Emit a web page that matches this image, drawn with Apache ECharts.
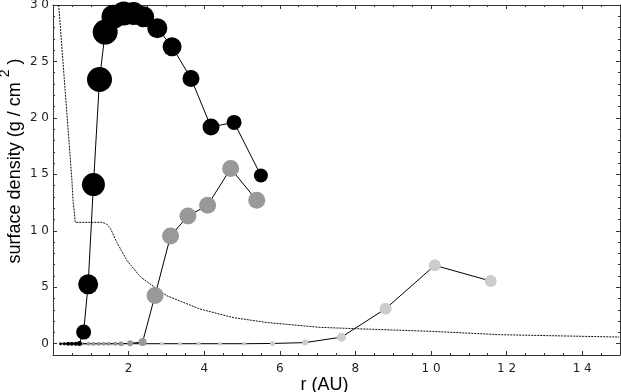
<!DOCTYPE html>
<html>
<head>
<meta charset="utf-8">
<script src="https://cdn.jsdelivr.net/npm/echarts@6/dist/echarts.min.js"></script>
<style>
html,body{margin:0;padding:0;background:#fff;}
#main{width:621px;height:392px;}
</style>
</head>
<body>
<div id="main"></div>
<script>
// black run (largest bodies)
var blackR = [0.2, 0.3, 0.4, 0.5, 0.6, 0.7, 0.81, 0.93, 1.07, 1.23, 1.38, 1.60, 1.87, 2.13, 2.40, 2.76, 3.15, 3.65, 4.18, 4.79, 5.50];
var blackSigma = [0, 0, 0, 0, 0, 0.02, 1.03, 5.26, 14.1, 23.4, 27.6, 28.95, 29.25, 29.25, 28.95, 27.95, 26.3, 23.5, 19.2, 19.6, 14.9];
var blackMark = [3, 3, 4, 4, 4, 5, 15, 20, 23, 25, 25, 24, 24, 23, 21, 20, 19, 17, 17, 15, 14];
// mid gray run
var grayR = [0.3, 0.45, 0.6, 0.75, 0.94, 1.07, 1.21, 1.34, 1.47, 1.65, 1.80, 2.04, 2.37, 2.70, 3.11, 3.57, 4.09, 4.70, 5.39];
var graySigma = [0, 0, 0, 0, 0, 0, 0, 0, 0, 0, 0, 0.03, 0.15, 4.28, 9.54, 11.31, 12.26, 15.51, 12.7];
var grayMark = [3, 3, 3, 3, 4, 4, 4, 4, 4, 4, 5, 6, 8, 17, 17, 17, 17, 17, 17];
// light gray run
var lightR = [0.4, 0.8, 1.2, 1.6, 2.0, 2.4, 2.88, 3.36, 3.85, 4.42, 5.06, 5.81, 6.67, 7.63, 8.8, 10.1, 11.58];
var lightSigma = [0, 0, 0, 0, 0, 0, 0, 0, 0, 0, 0, 0.02, 0.1, 0.58, 3.1, 6.94, 5.55];
var lightMark = [3, 3, 3, 3, 3, 3, 4, 4, 4, 4, 4, 5, 6, 9, 12, 12, 12];
// initial disk profile (dotted)
var diskR = [0.15, 0.34, 0.50, 0.53, 0.59, 1.30, 1.42, 1.52, 1.69, 1.96, 2.33, 3.01, 3.89, 4.76, 5.65, 7.06, 8.01, 10.05, 11.81, 14.98];
var diskSigma = [30, 21.6, 14.5, 12.7, 10.75, 10.75, 10.6, 10.2, 8.97, 7.35, 5.87, 4.25, 3.07, 2.32, 1.88, 1.45, 1.33, 1.09, 0.8, 0.59];
// ticks
var yTicks = [0, 5, 10, 15, 20, 25, 30];

function pack(xs, ys, ms) {
    var out = [];
    for (var i = 0; i < xs.length; i++) {
        out.push(ms ? [xs[i], ys[i], ms[i]] : [xs[i], ys[i]]);
    }
    return out;
}

// tick labels are drawn spaced out: "1 0"
function spaced(v) {
    return String(v).split('').join(' ');
}

var frame = '#333';
var labelFont = {fontFamily: 'DejaVu Sans', fontSize: 12, color: '#222'};

function xAx(pos, itv, len, major) {
    return {
        type: 'value', position: pos, min: 0, max: 15, interval: itv,
        axisLine: {show: major, onZero: false, lineStyle: {color: frame, width: 1}},
        axisTick: {show: true, inside: true, length: len, lineStyle: {color: frame}},
        axisLabel: {show: false},
        splitLine: {show: false}
    };
}
function yAx(pos, len, major) {
    var a = {
        type: 'value', position: pos, min: -1, max: 30,
        axisLine: {show: major, onZero: false, lineStyle: {color: frame, width: 1}},
        axisTick: {show: true, inside: true, length: len, lineStyle: {color: frame}},
        axisLabel: {show: false},
        splitLine: {show: false}
    };
    if (major) {
        a.interval = 5;
        a.axisTick.customValues = yTicks;
        a.axisLabel.customValues = yTicks;
    } else {
        a.interval = 1;
    }
    return a;
}

var xBottom = xAx('bottom', 2, 4, true);
xBottom.axisLabel = {show: true, showMinLabel: false, showMaxLabel: false, margin: 8, formatter: spaced,
    fontFamily: labelFont.fontFamily, fontSize: labelFont.fontSize, color: labelFont.color};
xBottom.name = 'r (AU)';
xBottom.nameLocation = 'middle';
xBottom.nameGap = 21;
xBottom.nameMoveOverlap = false;
xBottom.nameTextStyle = {fontFamily: 'Liberation Sans', fontSize: 18, color: '#000', padding: [0, 24, 0, 0]};

var yLeft = yAx('left', 4, true);
yLeft.axisLabel.show = true;
yLeft.axisLabel.margin = 4;
yLeft.axisLabel.formatter = spaced;
yLeft.axisLabel.fontFamily = labelFont.fontFamily;
yLeft.axisLabel.fontSize = labelFont.fontSize;
yLeft.axisLabel.color = labelFont.color;
yLeft.name = 'surface density (g / cm {s|2} )';
yLeft.nameLocation = 'middle';
yLeft.nameGap = 21;
yLeft.nameMoveOverlap = false;
yLeft.nameTextStyle = {
    fontFamily: 'Liberation Sans', fontSize: 18, color: '#000', padding: [0, 0, 0, 38],
    rich: {s: {fontFamily: 'Liberation Sans', fontSize: 14, color: '#000', padding: [0, 0, 20, 0]}}
};

var myChart = echarts.init(document.getElementById('main'));
var option = {
    backgroundColor: '#fff',
    animation: false,
    grid: {left: 53, right: 1, top: 5, bottom: 37, containLabel: false, outerBoundsMode: 'none'},
    xAxis: [xBottom, xAx('bottom', 0.5, 2, false), xAx('top', 2, 4, true), xAx('top', 0.5, 2, false)],
    yAxis: [yLeft, yAx('left', 2, false), yAx('right', 4, true), yAx('right', 2, false)],
    series: [
        {
            type: 'line', data: pack(diskR, diskSigma), showSymbol: false, symbol: 'none',
            lineStyle: {color: '#111', width: 1, type: [2, 1]}, clip: true, z: 1
        },
        {
            type: 'line', data: pack(lightR, lightSigma, lightMark), symbol: 'circle',
            symbolSize: function (v) { return v[2]; },
            itemStyle: {color: '#cccccc'}, lineStyle: {color: '#000', width: 1}, z: 2
        },
        {
            type: 'line', data: pack(grayR, graySigma, grayMark), symbol: 'circle',
            symbolSize: function (v) { return v[2]; },
            itemStyle: {color: '#999999'}, lineStyle: {color: '#000', width: 1}, z: 3
        },
        {
            type: 'line', data: pack(blackR, blackSigma, blackMark), symbol: 'circle',
            symbolSize: function (v) { return v[2]; },
            itemStyle: {color: '#000'}, lineStyle: {color: '#000', width: 1}, z: 4
        }
    ]
};
myChart.setOption(option);
</script>
</body>
</html>
